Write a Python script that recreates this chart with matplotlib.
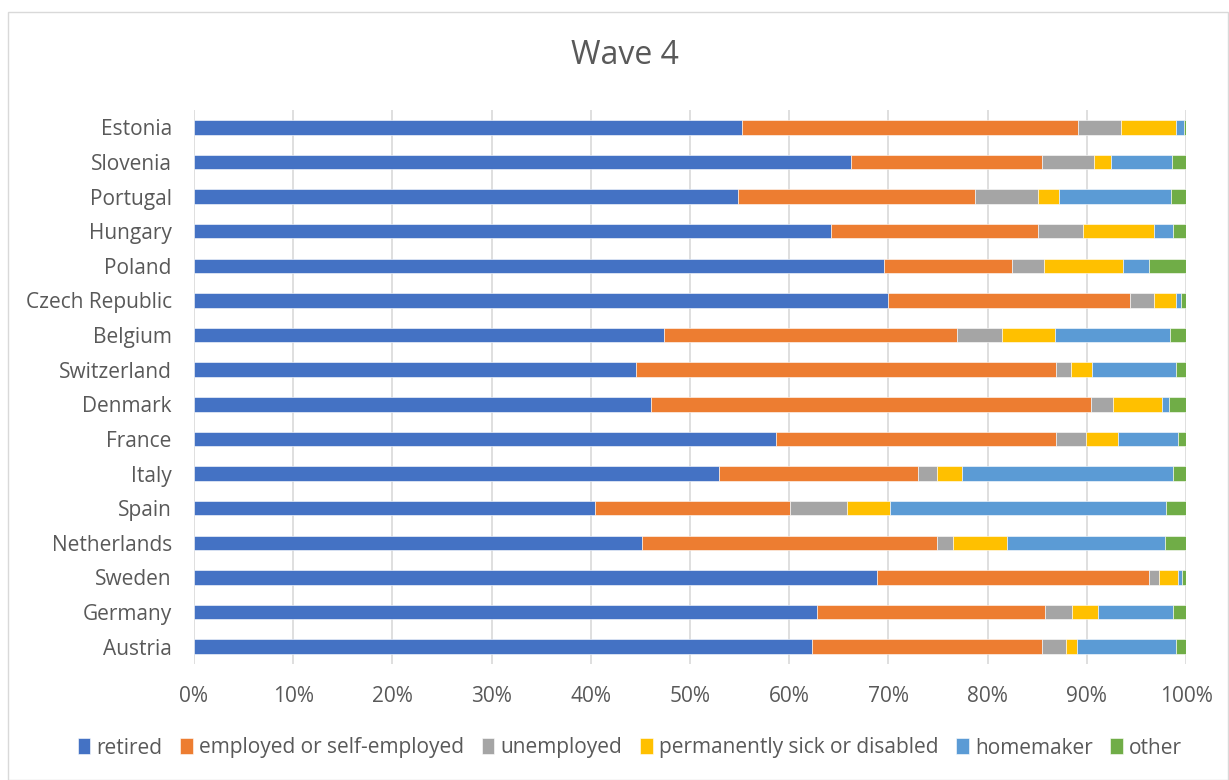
import matplotlib
matplotlib.use("Agg")
import matplotlib.pyplot as plt
from matplotlib.patches import Rectangle
from matplotlib.ticker import PercentFormatter
import numpy as np

countries = ["Estonia", "Slovenia", "Portugal", "Hungary", "Poland", "Czech Republic",
             "Belgium", "Switzerland", "Denmark", "France", "Italy", "Spain",
             "Netherlands", "Sweden", "Germany", "Austria"]

retired    = [55.2, 66.2, 54.8, 64.2, 69.6, 70.0, 47.4, 44.6, 46.1, 58.7, 52.9, 40.4, 45.2, 68.9, 62.8, 62.3]
employed   = [33.9, 19.3, 23.9, 20.9, 12.9, 24.4, 29.5, 42.3, 44.3, 28.2, 20.1, 19.7, 29.7, 27.4, 23.0, 23.2]
unemployed = [4.3, 5.2, 6.4, 4.5, 3.2, 2.4, 4.6, 1.5, 2.2, 3.0, 1.9, 5.7, 1.6, 1.0, 2.7, 2.4]
sick       = [5.6, 1.7, 2.1, 7.2, 7.9, 2.2, 5.3, 2.1, 5.0, 3.2, 2.5, 4.4, 5.5, 1.9, 2.6, 1.1]
homemaker  = [0.8, 6.2, 11.3, 1.9, 2.7, 0.5, 11.6, 8.5, 0.7, 6.1, 21.3, 27.8, 15.9, 0.4, 7.6, 10.0]
other      = [0.2, 1.4, 1.5, 1.3, 3.7, 0.5, 1.6, 1.0, 1.7, 0.8, 1.3, 2.0, 2.1, 0.4, 1.3, 1.0]

series_names = ["retired", "employed or self-employed", "unemployed",
                "permanently sick or disabled", "homemaker", "other"]
colors = ["#4472C4", "#ED7D31", "#A5A5A5", "#FFC000", "#5B9BD5", "#70AD47"]

plt.rcParams['font.family'] = ['Open Sans', 'DejaVu Sans']

fig = plt.figure(figsize=(12.29, 7.80), dpi=100)
ax = fig.add_axes([194/1229, 1 - 664/780, (1186-194)/1229, (664-110)/780])

data = np.array([retired, employed, unemployed, sick, homemaker, other], dtype=float)
totals = data.sum(axis=0)
shares = data / totals
y = np.arange(len(countries))
left = np.zeros(len(countries))
for vals, name, col in zip(shares, series_names, colors):
    ax.barh(y, vals, left=left, height=0.42, color=col, label=name,
            edgecolor="white", linewidth=0.4, zorder=3)
    left += vals

ax.set_xlim(0, 1)
ax.set_ylim(len(countries) - 0.5, -0.5)
ax.set_yticks(y)
ax.set_yticklabels(countries)
ax.set_xticks(np.arange(0, 1.01, 0.1))
ax.xaxis.set_major_formatter(PercentFormatter(1.0, decimals=0))
ax.grid(axis="x", color="#D9D9D9", linewidth=1.2, zorder=0)
for s in ax.spines.values():
    s.set_visible(False)
ax.tick_params(axis="both", length=0, labelsize=15, colors="#595959")
ax.tick_params(axis="x", pad=16)
ax.tick_params(axis="y", pad=16)

fig.text(625/1229, 1 - 56/780, "Wave 4", ha="center", va="center",
         fontsize=23, color="#595959")

handles, labels = ax.get_legend_handles_labels()
leg = fig.legend(handles, labels, loc="center", bbox_to_anchor=(630/1229, 1 - 748/780),
                 ncol=6, frameon=False, fontsize=15, handlelength=0.6, handleheight=0.8,
                 handletextpad=0.3, columnspacing=0.85)
for t in leg.get_texts():
    t.set_color("#595959")

fig.patches.append(Rectangle((8/1229, 0), 1 - 8/1229 - 0.001, 1 - 12/780,
                             transform=fig.transFigure, fill=False,
                             edgecolor="#D9D9D9", linewidth=1))

fig.savefig("out.png", dpi=100, facecolor="white")
